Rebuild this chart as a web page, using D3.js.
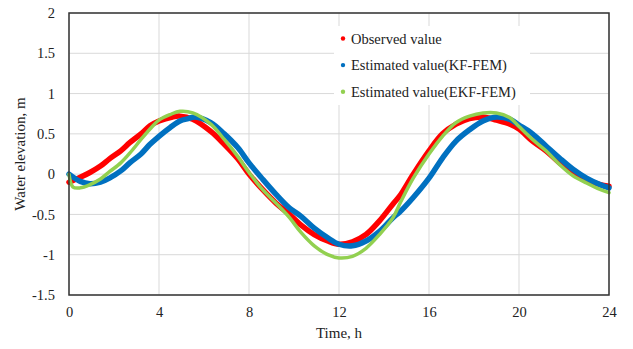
<!DOCTYPE html>
<html><head><meta charset="utf-8">
<script src="https://cdn.jsdelivr.net/npm/d3@7/dist/d3.min.js"></script>
<style>body{margin:0;background:#fff}svg{display:block}svg text{font-family:"Liberation Serif","Times New Roman","DejaVu Serif",serif !important;fill:#222}</style>
</head><body><svg id="c" width="633" height="349"></svg>
<script>
const xTicks=[0,4,8,12,16,20,24];
const yTicks=[-1.5,-1,-0.5,0,0.5,1,1.5,2];
const seriesNames=["Observed value","Estimated value(KF-FEM)","Estimated value(EKF-FEM)"];
const seriesColors=["#ff0000","#0070c0","#92d050"];
const timeObs=[0,0.5,0.93,1.4,1.8,2.3,2.7,3.2,3.6,4.0,4.6,4.93,5.5,6.3,6.9,7.5,8.0,8.6,9.2,9.8,10.3,10.9,11.5,12.0,12.6,13.2,13.8,14.4,14.7,15.3,16.0,16.6,17.2,17.8,18.4,19.0,19.6,20.0,20.6,21.2,21.8,22.4,23.0,23.6,24];
const observed=[-0.1,-0.04,0.02,0.1,0.19,0.29,0.39,0.5,0.6,0.66,0.71,0.72,0.68,0.53,0.37,0.19,0.0,-0.19,-0.36,-0.5,-0.63,-0.75,-0.83,-0.87,-0.84,-0.75,-0.58,-0.37,-0.27,0.0,0.29,0.5,0.62,0.69,0.71,0.67,0.62,0.56,0.41,0.29,0.14,0.02,-0.07,-0.13,-0.15];
const timeKF=[0,0.5,0.93,1.4,1.8,2.3,2.7,3.2,3.6,4.0,4.5,4.93,5.3,5.6,6.3,6.9,7.5,8.0,8.6,9.2,9.8,10.3,10.9,11.5,12.0,12.6,13.2,13.8,14.4,14.7,15.3,16.0,16.6,17.2,17.8,18.4,19.0,19.6,20.0,20.6,21.2,21.8,22.4,23.0,23.6,24];
const kf=[0.0,-0.09,-0.12,-0.1,-0.05,0.04,0.14,0.25,0.37,0.47,0.58,0.66,0.69,0.71,0.64,0.5,0.33,0.14,-0.06,-0.25,-0.42,-0.52,-0.67,-0.79,-0.87,-0.89,-0.83,-0.71,-0.54,-0.47,-0.29,-0.05,0.2,0.41,0.55,0.66,0.71,0.68,0.61,0.5,0.35,0.2,0.06,-0.05,-0.13,-0.17];
const timeEKF=[0,0.18,0.5,0.93,1.4,1.8,2.3,2.7,3.2,3.6,4.0,4.5,4.93,5.5,6.3,6.9,7.5,8.0,8.6,9.2,9.8,10.3,10.9,11.5,12.0,12.6,13.2,13.8,14.4,14.75,15.3,16.0,16.6,17.2,17.8,18.4,19.0,19.6,20.0,20.6,21.2,21.8,22.4,23.0,23.6,24];
const ekf=[0.0,-0.16,-0.17,-0.13,-0.06,0.03,0.14,0.26,0.43,0.56,0.67,0.74,0.78,0.76,0.62,0.43,0.22,0.02,-0.19,-0.36,-0.54,-0.72,-0.89,-1.0,-1.04,-1.02,-0.92,-0.75,-0.54,-0.34,-0.05,0.25,0.47,0.64,0.72,0.76,0.76,0.7,0.59,0.43,0.29,0.12,-0.02,-0.11,-0.19,-0.23];

const FONT="Liberation Serif, Times New Roman, DejaVu Serif, serif";
const svg=d3.select("#c");
const L=69,R=609,T=13,B=295;
const x=d3.scaleLinear().domain([0,24]).range([L,R]);
const y=d3.scaleLinear().domain([-1.5,2]).range([B,T]);

svg.append("g").selectAll("line").data(yTicks).join("line")
 .attr("x1",L).attr("x2",R).attr("y1",d=>y(d)).attr("y2",d=>y(d))
 .attr("stroke","#d9d9d9").attr("stroke-width",1);
svg.append("g").selectAll("line").data(xTicks).join("line")
 .attr("y1",T).attr("y2",B).attr("x1",d=>x(d)).attr("x2",d=>x(d))
 .attr("stroke","#d9d9d9").attr("stroke-width",1);

const xa=svg.append("g").attr("transform",`translate(0,${B})`)
 .call(d3.axisBottom(x).tickValues(xTicks).tickSize(0).tickPadding(12).tickFormat(d3.format("d")));
xa.attr("font-family",FONT).attr("font-size",14.5);
xa.select(".domain").remove();
const ya=svg.append("g").attr("transform",`translate(${L},0)`)
 .call(d3.axisLeft(y).tickValues(yTicks).tickSize(0).tickPadding(14).tickFormat(d=>String(d)));
ya.attr("font-family",FONT).attr("font-size",14.5);
ya.select(".domain").remove();

const sets=[[timeObs,observed],[timeKF,kf],[timeEKF,ekf]];
const widths=[5.5,5.5,3.5];
const line=d3.line().x(d=>x(d[0])).y(d=>y(d[1])).curve(d3.curveCatmullRom.alpha(0.5));
sets.forEach((s,i)=>{
  const pts=s[0].map((t,j)=>[t,s[1][j]]);
  svg.append("path").datum(pts).attr("d",line).attr("fill","none")
   .attr("stroke",seriesColors[i]).attr("stroke-width",widths[i])
   .attr("stroke-linejoin","round").attr("stroke-linecap","round");
});

svg.append("rect").attr("x",L).attr("y",T).attr("width",R-L).attr("height",B-T)
 .attr("fill","none").attr("stroke","#333").attr("stroke-width",1.5);

const lg=svg.append("g").attr("font-family",FONT);
lg.append("rect").attr("x",334).attr("y",26).attr("width",196).attr("height",79).attr("fill","#fff");
seriesNames.forEach((n,i)=>{
  const yy=38.5+i*26.6;
  lg.append("circle").attr("cx",343).attr("cy",yy).attr("r",2.2).attr("fill",seriesColors[i]);
  lg.append("text").attr("x",351).attr("y",yy).attr("dy","0.35em").attr("font-size",14.5).attr("font-family",FONT).text(n);
});

svg.append("text").attr("x",(L+R)/2).attr("y",338).attr("text-anchor","middle").attr("font-size",15).attr("font-family",FONT).text("Time, h");
svg.append("text").attr("transform",`translate(25,${(T+B)/2}) rotate(-90)`).attr("text-anchor","middle").attr("font-size",15).attr("font-family",FONT).text("Water elevation, m");
</script></body></html>
